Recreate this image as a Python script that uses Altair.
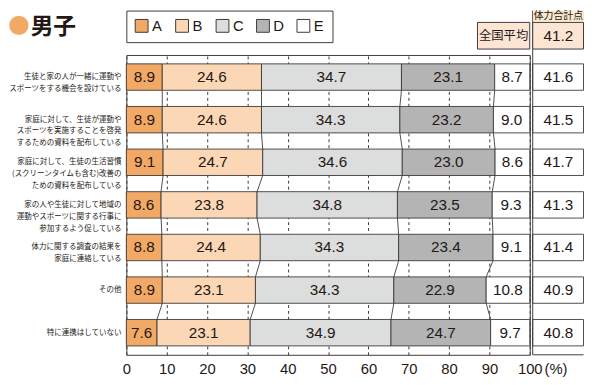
import altair as alt
import pandas as pd

# ---------------- data ----------------
categories = [
    "生徒と家の人が一緒に運動や\nスポーツをする機会を設けている",
    "家庭に対して、生徒が運動や\nスポーツを実施することを啓発\nするための資料を配布している",
    "家庭に対して、生徒の生活習慣\n(スクリーンタイムも含む)改善の\nための資料を配布している",
    "家の人や生徒に対して地域の\n運動やスポーツに関する行事に\n参加するよう促している",
    "体力に関する調査の結果を\n家庭に連絡している",
    "その他",
    "特に連携はしていない",
]
seg_names = ["A", "B", "C", "D", "E"]
seg_colors = ["#f3a966", "#fbd7b5", "#dcdddd", "#b4b4b5", "#ffffff"]
a_vals = [8.9, 8.9, 9.1, 8.6, 8.8, 8.9, 7.6]
b_vals = [24.6, 24.6, 24.7, 23.8, 24.4, 23.1, 23.1]
c_vals = [34.7, 34.3, 34.6, 34.8, 34.3, 34.3, 34.9]
d_vals = [23.1, 23.2, 23.0, 23.5, 23.4, 22.9, 24.7]
e_vals = [8.7, 9.0, 8.6, 9.3, 9.1, 10.8, 9.7]
scores = [41.6, 41.5, 41.7, 41.3, 41.4, 40.9, 40.8]
national_avg = 41.2
x_ticks = [0, 10, 20, 30, 40, 50, 60, 70, 80, 90, 100]

# ---------------- style ----------------
STROKE = "#3e3a39"
TEXT = "#231815"
HALF = 0.31
W, H = 409, 304
NUMFONT = "Liberation Sans"
JPFONT = "Noto Sans CJK JP"

series = [a_vals, b_vals, c_vals, d_vals, e_vals]
rows = []
for i in range(len(categories)):
    start = 0.0
    for k, name in enumerate(seg_names):
        v = series[k][i]
        rows.append(dict(row=i, seg=name, start=start, end=start + v,
                         mid=start + v / 2, y0=i - HALF, y1=i + HALF,
                         label=f"{v:.1f}"))
        start += v
seg_df = pd.DataFrame(rows)

conn = []
for i in range(len(categories) - 1):
    for k in range(1, 5):
        conn.append(dict(x=sum(series[j][i] for j in range(k)),
                         x2=sum(series[j][i + 1] for j in range(k)),
                         y=i + HALF, y2=i + 1 - HALF))
conn_df = pd.DataFrame(conn)

cat_df = pd.DataFrame(dict(row=list(range(len(categories))), cat=categories,
                           score=[f"{s:.1f}" for s in scores],
                           y0=[i - HALF for i in range(len(categories))],
                           y1=[i + HALF for i in range(len(categories))]))

xs = alt.Scale(domain=[0, 100], nice=False, zero=False)
ys = alt.Scale(domain=[-0.519, 6.519], reverse=True, nice=False, zero=False)

bars = alt.Chart(seg_df).mark_rect(stroke=STROKE, strokeWidth=0.9).encode(
    x=alt.X("start:Q", scale=xs, axis=alt.Axis(
        values=x_ticks, grid=True, gridDash=[3, 3], gridColor=STROKE, gridWidth=1,
        gridOpacity=1, domain=False, ticks=False, labelFontSize=15, labelFont=NUMFONT,
        labelColor=TEXT, labelPadding=7, labelFlush=False, title=None)),
    x2="end:Q",
    y=alt.Y("y0:Q", scale=ys, axis=None),
    y2="y1:Q",
    color=alt.Color("seg:N", scale=alt.Scale(domain=seg_names, range=seg_colors),
                    legend=alt.Legend(
                        orient="none", legendX=0, legendY=-45, direction="horizontal",
                        title=None, symbolType="square", symbolSize=169,
                        symbolStrokeColor=STROKE, symbolStrokeWidth=1, symbolOpacity=1,
                        labelFont=NUMFONT, labelFontSize=15, labelColor=TEXT,
                        labelOffset=3, columnPadding=11, padding=8,
                        strokeColor=STROKE, fillColor="white")),
)

connectors = alt.Chart(conn_df).mark_rule(color=STROKE, strokeWidth=0.9).encode(
    x=alt.X("x:Q", scale=xs), x2="x2:Q",
    y=alt.Y("y:Q", scale=ys), y2="y2:Q",
)

bar_text = alt.Chart(seg_df).mark_text(font=NUMFONT, fontSize=15.5, color=TEXT).encode(
    x=alt.X("mid:Q", scale=xs), y=alt.Y("row:Q", scale=ys), text="label:N"
)

ylabels = alt.Chart(cat_df).mark_text(
    align="right", baseline="middle", lineBreak="\n", lineHeight=12,
    fontSize=7.6, font=JPFONT, color=TEXT
).encode(x=alt.value(-5), y=alt.Y("row:Q", scale=ys), text="cat:N")

# score column
score_cells = alt.Chart(cat_df).mark_rect(fill="white", stroke=STROKE, strokeWidth=0.9).encode(
    x=alt.value(412), x2=alt.value(463.5), y=alt.Y("y0:Q", scale=ys), y2="y1:Q"
)
score_text = alt.Chart(cat_df).mark_text(font=NUMFONT, fontSize=15.5, color=TEXT).encode(
    x=alt.value(438), y=alt.Y("row:Q", scale=ys), text="score:N"
)
one = pd.DataFrame({"t": [""]})
col_left = alt.Chart(one).mark_rule(color=STROKE, strokeWidth=1).encode(
    x=alt.value(412), y=alt.value(-45), y2=alt.value(H)
)
col_bottom = alt.Chart(one).mark_rule(color=STROKE, strokeWidth=1).encode(
    x=alt.value(412), x2=alt.value(463.5), y=alt.value(H)
)

head_df = pd.DataFrame({"t": ["体力合計点"]})
head_box = alt.Chart(head_df).mark_rect(fill="#f9e6cd").encode(
    x=alt.value(412.5), x2=alt.value(464), y=alt.value(-45), y2=alt.value(-34)
)
head_txt = alt.Chart(head_df).mark_text(font=JPFONT, fontSize=10, color=TEXT).encode(
    x=alt.value(438), y=alt.value(-39.5), text="t:N"
)

nat_df = pd.DataFrame({"t": ["全国平均"], "v": [f"{national_avg:.1f}"]})
nat_box = alt.Chart(nat_df).mark_rect(fill="#fde5d4", stroke=STROKE, strokeWidth=1).encode(
    x=alt.value(356), x2=alt.value(409), y=alt.value(-33), y2=alt.value(-6)
)
nat_txt = alt.Chart(nat_df).mark_text(font=JPFONT, fontSize=12.5, color=TEXT).encode(
    x=alt.value(382.5), y=alt.value(-19.5), text="t:N"
)
val_box = alt.Chart(nat_df).mark_rect(fill="#fde5d4", stroke=STROKE, strokeWidth=1).encode(
    x=alt.value(412), x2=alt.value(463.5), y=alt.value(-33), y2=alt.value(-6)
)
val_txt = alt.Chart(nat_df).mark_text(font=NUMFONT, fontSize=15.5, color=TEXT).encode(
    x=alt.value(438), y=alt.value(-19.5), text="v:N"
)

title_df = pd.DataFrame({"t": ["男子"]})
title_dot = alt.Chart(title_df).mark_circle(color="#f3a966", opacity=1, size=380).encode(
    x=alt.value(-109), y=alt.value(-30)
)
title_txt = alt.Chart(title_df).mark_text(
    font=JPFONT, fontSize=23, fontWeight="bold", color=TEXT, align="left", baseline="middle"
).encode(x=alt.value(-97), y=alt.value(-28), text="t:N")

pct_df = pd.DataFrame({"t": ["(%)"]})
pct_txt = alt.Chart(pct_df).mark_text(
    font=NUMFONT, fontSize=15, color=TEXT, align="left", baseline="top"
).encode(x=alt.value(W + 15), y=alt.value(H + 7), text="t:N")

chart = alt.layer(
    bars, connectors, bar_text, ylabels, score_cells, score_text, col_left, col_bottom,
    head_box, head_txt, nat_box, nat_txt, val_box, val_txt, title_dot, title_txt, pct_txt
).properties(
    width=W, height=H,
    autosize=alt.AutoSizeParams(type="none"),
    padding={"left": 120, "top": 45, "right": 55, "bottom": 28},
).configure_view(stroke=STROKE, strokeWidth=1)

chart.save("out.html", embed_options={"renderer": "svg", "actions": False})
